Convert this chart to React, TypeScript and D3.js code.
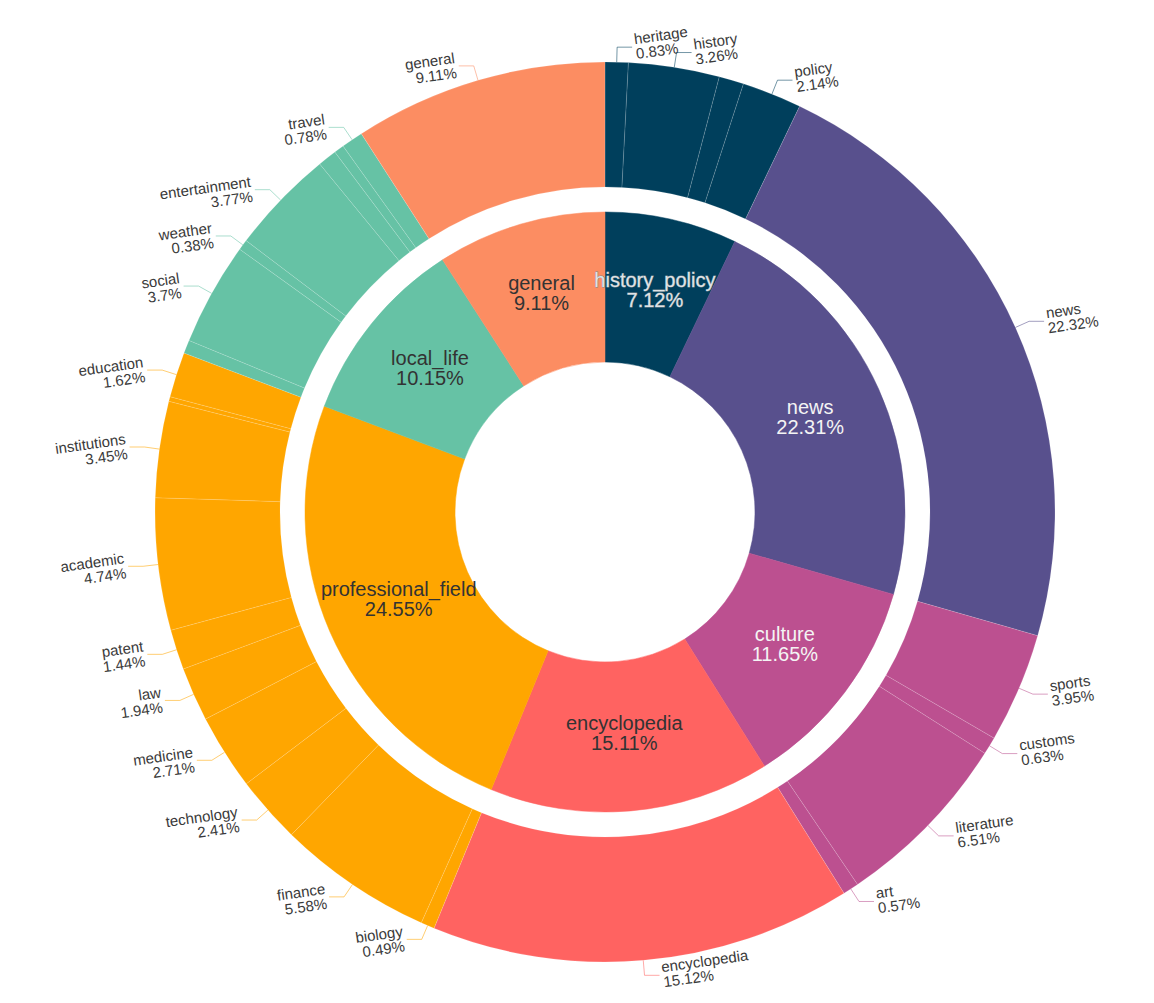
import React from "react";
import * as d3 from "d3";

const innerNames = ["history_policy", "news", "culture", "encyclopedia", "professional_field", "local_life", "general"];
const innerValues = [7.12, 22.31, 11.65, 15.11, 24.55, 10.15, 9.11];
const groupColors = ["#003f5c", "#58508d", "#bc5090", "#ff6361", "#ffa600", "#66c2a5", "#fc8d62"];
const innerTextFill = ["#dfe3e6", "#f4f4f4", "#f4f4f4", "#333333", "#333333", "#333333", "#333333"];

const outerNames = ["heritage", "history", "", "policy", "news", "sports", "customs", "literature", "art", "encyclopedia", "biology", "finance", "technology", "medicine", "law", "patent", "academic", "institutions", "", "education", "", "social", "weather", "entertainment", "", "", "travel", "general"];
const outerValues = [0.83, 3.26, 0.89, 2.14, 22.32, 3.95, 0.63, 6.51, 0.57, 15.12, 0.49, 5.58, 2.41, 2.71, 1.94, 1.44, 4.74, 3.45, 0.17, 1.62, 0.48, 3.7, 0.38, 3.77, 0.68, 0.36, 0.78, 9.11];
const outerGroup = [0, 0, 0, 0, 1, 2, 2, 2, 2, 3, 4, 4, 4, 4, 4, 4, 4, 4, 4, 4, 5, 5, 5, 5, 5, 5, 5, 6];

const W = 1154;
const H = 1003;
const CX = 605;
const CY = 512;
const R_IN0 = 150;
const R_IN1 = 300;
const R_OUT0 = 325;
const R_OUT1 = 450;
const FONT = "'Liberation Sans', Arial, Helvetica, sans-serif";

export default function App() {
  const pie = d3.pie<number>().sort(null).value((d) => d);
  const innerArcs = pie(innerValues);
  const outerArcs = pie(outerValues);
  const innerArc = d3.arc<d3.PieArcDatum<number>>().innerRadius(R_IN0).outerRadius(R_IN1);
  const outerArc = d3.arc<d3.PieArcDatum<number>>().innerRadius(R_OUT0).outerRadius(R_OUT1);
  const labelR = (R_IN0 + R_IN1) / 2;

  return (
    <svg width={W} height={H} style={{ position: "absolute", left: 0, top: 0, background: "#fff" }} fontFamily={FONT}>
      <g transform={`translate(${CX},${CY})`}>
        {innerArcs.map((a, i) => (
          <path key={"i" + i} d={innerArc(a) || ""} fill={groupColors[i]} stroke={groupColors[i]} strokeWidth={0.5} />
        ))}
        {outerArcs.map((a, i) => (
          <path key={"o" + i} d={outerArc(a) || ""} fill={groupColors[outerGroup[i]]} stroke="rgba(255,255,255,0.2)" strokeWidth={0.7} />
        ))}
        {innerArcs.map((a, i) => {
          const m = (a.startAngle + a.endAngle) / 2;
          const x = labelR * Math.sin(m);
          const y = -labelR * Math.cos(m);
          const outline = i === 0;
          return (
            <text key={"it" + i} x={x} y={y} textAnchor="middle" fontSize={20} fill={innerTextFill[i]}
              stroke={outline ? "#7c8a92" : "none"} strokeWidth={outline ? 0.8 : 0} paintOrder="stroke">
              <tspan x={x} dy={-6}>{innerNames[i]}</tspan>
              <tspan x={x} dy={20}>{innerValues[i] + "%"}</tspan>
            </text>
          );
        })}
        {outerArcs.map((a, i) => {
          if (!outerNames[i]) return null;
          const m = (a.startAngle + a.endAngle) / 2;
          const sx = R_OUT1 * Math.sin(m);
          const sy = -R_OUT1 * Math.cos(m);
          const ex = (R_OUT1 + 15) * Math.sin(m);
          const ey = -(R_OUT1 + 15) * Math.cos(m);
          const right = sx >= 0;
          const hx = ex + (right ? 15 : -15);
          const tx = hx + (right ? 3 : -3);
          const col = groupColors[outerGroup[i]];
          return (
            <g key={"ol" + i}>
              <polyline points={`${sx},${sy} ${ex},${ey} ${hx},${ey}`} fill="none" stroke={col} strokeOpacity={0.55} strokeWidth={1} />
              <text x={tx} y={ey} fontSize={15} fill="#3a3a3a" textAnchor={right ? "start" : "end"} transform={`rotate(-8, ${tx}, ${ey})`}>
                <tspan x={tx} dy={-3}>{outerNames[i]}</tspan>
                <tspan x={tx} dy={15}>{outerValues[i] + "%"}</tspan>
              </text>
            </g>
          );
        })}
      </g>
    </svg>
  );
}
